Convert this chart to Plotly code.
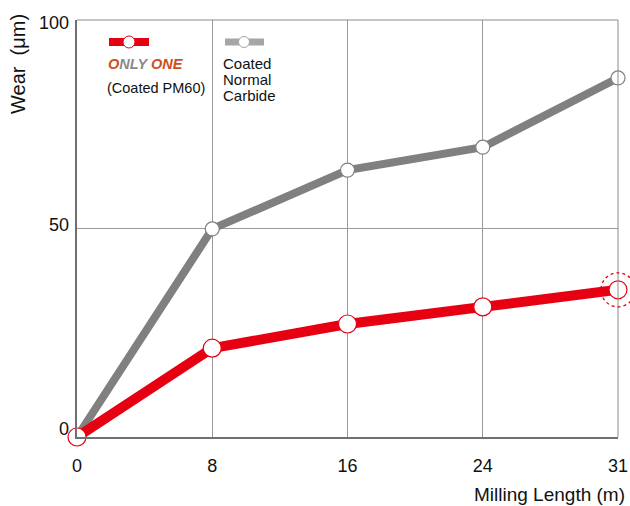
import plotly.graph_objects as go

lengths = ["0", "8", "16", "24", "31"]
pm60_wear = [0, 21.3, 27.1, 31.2, 35.3]
normal_wear = [0, 49.9, 64.0, 69.5, 86.1]
y_ticks = [0, 50, 100]
y_max = 100

RED = "#e60012"
GRAY = "#808080"
LGRAY = "#a6a6a6"
ORANGE = "#cc4f1c"
FONT = "Liberation Sans, Arial, sans-serif"

W, H = 630, 506
# plot area in page pixels: x 77..618, y 20..437
PL, PR, PT, PB = 77, 618, 20, 437


def px(x):
    return (x - PL) / (PR - PL)


def py(y):
    return (PB - y) / (PB - PT)


xi = list(range(len(lengths)))

fig = go.Figure()
fig.add_trace(go.Scatter(
    x=xi, y=normal_wear, mode="lines+markers",
    line=dict(color=GRAY, width=8),
    marker=dict(size=14, color="white", line=dict(color=GRAY, width=1.2)),
    showlegend=False, cliponaxis=False, hoverinfo="x+y"))
fig.add_trace(go.Scatter(
    x=xi, y=pm60_wear, mode="lines+markers",
    line=dict(color=RED, width=10),
    marker=dict(size=18, color="white", line=dict(color=RED, width=1.2)),
    showlegend=False, cliponaxis=False, hoverinfo="x+y"))

shapes = [
    # frame top / right
    dict(type="line", xref="paper", yref="paper", x0=0, x1=1, y0=1, y1=1,
         line=dict(color="#8c8c8c", width=1)),
    dict(type="line", xref="paper", yref="paper", x0=1, x1=1, y0=0, y1=1,
         line=dict(color="#8c8c8c", width=1)),
    # dashed highlight around last PM60 point (x at right edge, y from data / axis range)
    dict(type="circle", xref="paper", yref="paper", xsizemode="pixel", ysizemode="pixel",
         xanchor=1, yanchor=pm60_wear[-1] / y_max, x0=-17, x1=17, y0=-17, y1=17,
         line=dict(color=RED, width=1.3, dash="3px,3px")),
    # custom legend
    dict(type="line", xref="paper", yref="paper", x0=px(109), x1=px(149), y0=py(42), y1=py(42),
         line=dict(color=RED, width=8)),
    dict(type="line", xref="paper", yref="paper", x0=px(225), x1=px(264), y0=py(42), y1=py(42),
         line=dict(color=LGRAY, width=7)),
    dict(type="circle", xref="paper", yref="paper", xsizemode="pixel", ysizemode="pixel",
         xanchor=px(129), yanchor=py(42), x0=-6, x1=6, y0=-6, y1=6,
         fillcolor="white", line=dict(color=RED, width=1)),
    dict(type="circle", xref="paper", yref="paper", xsizemode="pixel", ysizemode="pixel",
         xanchor=px(244), yanchor=py(42), x0=-5.5, x1=5.5, y0=-5.5, y1=5.5,
         fillcolor="white", line=dict(color=LGRAY, width=1)),
]
fig.update_layout(shapes=shapes)

annotations = []
for v in y_ticks:
    shift = {0: 8, 50: 4, 100: -3}[v]
    annotations.append(dict(x=0, xref="paper", y=v, yref="y", text=str(v), showarrow=False,
                            xanchor="right", yanchor="middle", xshift=-6, yshift=shift,
                            font=dict(size=18, color="#111", family=FONT)))


def pa(x, y, text, size, anchor="left", color="#111"):
    return dict(x=px(x), y=py(y), xref="paper", yref="paper", text=text, showarrow=False,
                xanchor=anchor, yanchor="middle",
                font=dict(size=size, color=color, family=FONT))


logo = (f"<b><i><span style='color:{ORANGE}'>O</span>"
        f"<span style='color:#8a8a8a'>NLY </span>"
        f"<span style='color:{ORANGE}'>ONE</span></i></b>")
annotations += [
    pa(106, 64, logo, 14.5),
    pa(105, 88, "(Coated PM60)", 14.5),
    pa(221, 63, "Coated", 15),
    pa(221, 79, "Normal", 15),
    pa(221, 95, "Carbide", 15),
    pa(627, 494, "Milling Length (m)", 19, anchor="right"),
    dict(x=px(18), y=py(64), xref="paper", yref="paper", text="Wear  (μm)", showarrow=False,
         textangle=-90, xanchor="center", yanchor="middle",
         font=dict(size=20, color="#111", family=FONT)),
]
fig.update_layout(annotations=annotations)

fig.update_layout(
    width=W, height=H,
    margin=dict(l=PL, r=W - PR, t=PT, b=H - PB, autoexpand=False),
    paper_bgcolor="white", plot_bgcolor="white",
    font=dict(family=FONT, size=16, color="#111"),
    hovermode="closest",
    xaxis=dict(range=[0, 4], tickvals=xi, ticktext=lengths, showgrid=True, gridcolor="#9a9a9a",
               gridwidth=1, showline=True, linecolor="#707070", linewidth=2, zeroline=False,
               ticks="", ticklabelstandoff=11, tickfont=dict(size=18, color="#111"),
               automargin=False, fixedrange=True),
    yaxis=dict(range=[0, y_max], tickvals=[50], showticklabels=False, showgrid=True,
               gridcolor="#9a9a9a", gridwidth=1, showline=True, linecolor="#707070", linewidth=2,
               zeroline=False, ticks="", automargin=False, fixedrange=True),
)

post = ("document.documentElement.style.overflow='hidden';"
        "document.body.style.margin='0';document.body.style.overflow='hidden';")
fig.write_html("out.html", post_script=post, config={"displayModeBar": False})
